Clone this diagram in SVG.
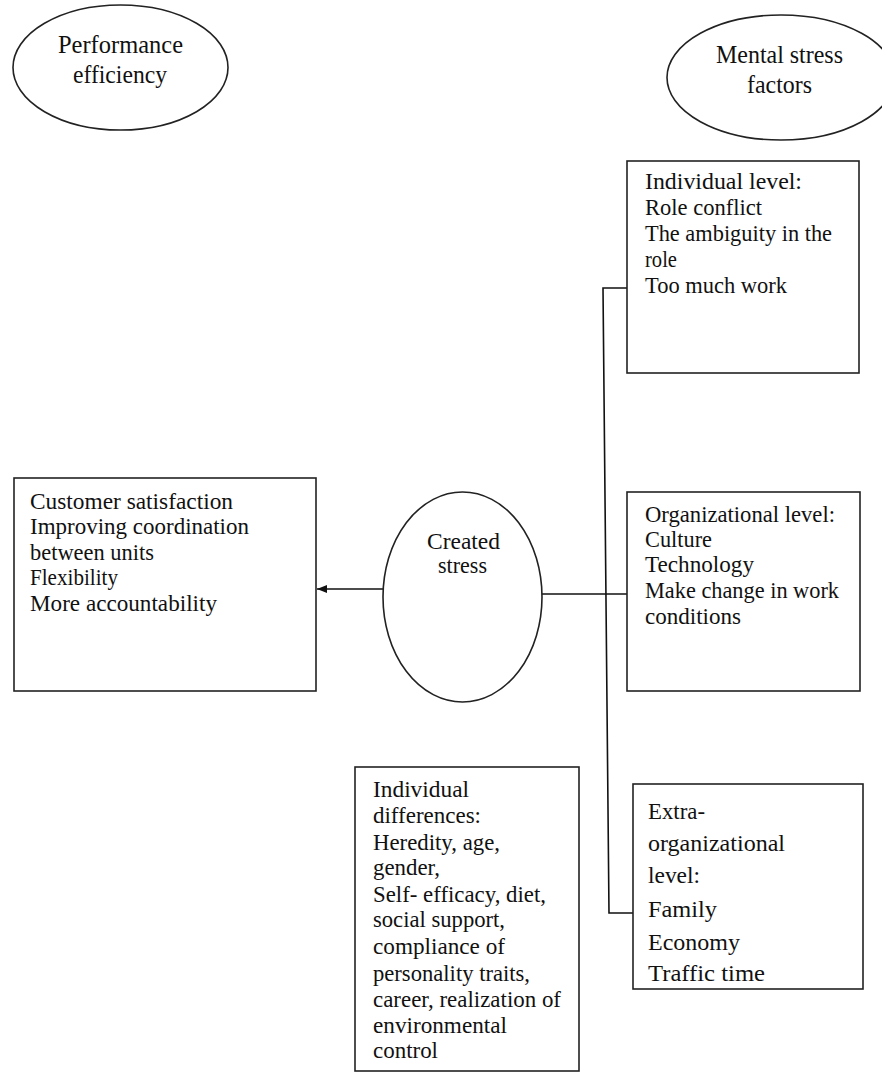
<svg xmlns="http://www.w3.org/2000/svg" width="882" height="1072" viewBox="0 0 882 1072">
<style>
  .shape { fill: #ffffff; stroke: #222222; stroke-width: 1.6; }
  .conn { fill: none; stroke: #111111; stroke-width: 1.6; }
  text { font-family: "Liberation Serif", "Times New Roman", serif; font-size: 23px; fill: #111111; }
  .c { text-anchor: middle; }
  .big { font-size: 24px; }
  .head { font-size: 25px; }
</style>
<defs>
  <marker id="arrow" markerWidth="10" markerHeight="8" refX="10" refY="4" orient="auto" markerUnits="userSpaceOnUse">
    <path d="M0,0 L10,4 L0,8 Z" fill="#111111"/>
  </marker>
</defs>
<rect width="882" height="1072" fill="#ffffff"/>

<g id="connectors">
  <line class="conn" x1="383" y1="589" x2="317" y2="589" marker-end="url(#arrow)"/>
  <line class="conn" x1="542" y1="594" x2="627" y2="594"/>
  <path class="conn" d="M627,288 L603,288 L609,913 L633,913"/>
</g>

<g id="performance-efficiency">
  <ellipse class="shape" cx="120.5" cy="67.5" rx="107.5" ry="62.5"/>
  <text class="c head" x="120.5" y="53" textLength="125" lengthAdjust="spacingAndGlyphs">Performance</text>
  <text class="c head" x="120" y="83" textLength="94" lengthAdjust="spacingAndGlyphs">efficiency</text>
</g>

<g id="mental-stress-factors">
  <ellipse class="shape" cx="781" cy="77.5" rx="114" ry="62.5"/>
  <text class="c head" x="779.5" y="63" textLength="127" lengthAdjust="spacingAndGlyphs">Mental stress</text>
  <text class="c head" x="779.5" y="93" textLength="65" lengthAdjust="spacingAndGlyphs">factors</text>
</g>

<g id="individual-level">
  <rect class="shape" x="627" y="161" width="232" height="212"/>
  <text x="645" y="189" textLength="157" lengthAdjust="spacingAndGlyphs">Individual level:</text>
  <text x="645" y="215" textLength="117" lengthAdjust="spacingAndGlyphs">Role conflict</text>
  <text x="645" y="241" textLength="187" lengthAdjust="spacingAndGlyphs">The ambiguity in the</text>
  <text x="645" y="267" textLength="32" lengthAdjust="spacingAndGlyphs">role</text>
  <text x="645" y="293" textLength="142" lengthAdjust="spacingAndGlyphs">Too much work</text>
</g>

<g id="outcomes">
  <rect class="shape" x="14" y="478" width="302" height="213"/>
  <text x="30" y="509" textLength="203" lengthAdjust="spacingAndGlyphs">Customer satisfaction</text>
  <text x="30" y="534" textLength="219" lengthAdjust="spacingAndGlyphs">Improving coordination</text>
  <text x="30" y="560" textLength="124" lengthAdjust="spacingAndGlyphs">between units</text>
  <text x="30" y="585" textLength="88" lengthAdjust="spacingAndGlyphs">Flexibility</text>
  <text x="30" y="611" textLength="187" lengthAdjust="spacingAndGlyphs">More accountability</text>
</g>

<g id="created-stress">
  <ellipse class="shape" cx="462.5" cy="597" rx="79.5" ry="105"/>
  <text class="c" x="463.5" y="549" textLength="73" lengthAdjust="spacingAndGlyphs">Created</text>
  <text class="c" x="462.5" y="573" textLength="49" lengthAdjust="spacingAndGlyphs">stress</text>
</g>

<g id="organizational-level">
  <rect class="shape" x="627" y="492" width="233" height="199"/>
  <text x="645" y="522" textLength="190" lengthAdjust="spacingAndGlyphs">Organizational level:</text>
  <text x="645" y="547" textLength="67" lengthAdjust="spacingAndGlyphs">Culture</text>
  <text x="645" y="572" textLength="109" lengthAdjust="spacingAndGlyphs">Technology</text>
  <text x="645" y="598" textLength="194" lengthAdjust="spacingAndGlyphs">Make change in work</text>
  <text x="645" y="624" textLength="96" lengthAdjust="spacingAndGlyphs">conditions</text>
</g>

<g id="individual-differences">
  <rect class="shape" x="355" y="767" width="224" height="304"/>
  <text x="373" y="797" textLength="96" lengthAdjust="spacingAndGlyphs">Individual</text>
  <text x="373" y="823" textLength="108" lengthAdjust="spacingAndGlyphs">differences:</text>
  <text x="373" y="850" textLength="127" lengthAdjust="spacingAndGlyphs">Heredity, age,</text>
  <text x="373" y="875" textLength="67" lengthAdjust="spacingAndGlyphs">gender,</text>
  <text x="373" y="902" textLength="173" lengthAdjust="spacingAndGlyphs">Self- efficacy, diet,</text>
  <text x="373" y="927" textLength="132" lengthAdjust="spacingAndGlyphs">social support,</text>
  <text x="373" y="954" textLength="132" lengthAdjust="spacingAndGlyphs">compliance of</text>
  <text x="373" y="981" textLength="157" lengthAdjust="spacingAndGlyphs">personality traits,</text>
  <text x="373" y="1007" textLength="188" lengthAdjust="spacingAndGlyphs">career, realization of</text>
  <text x="373" y="1033" textLength="134" lengthAdjust="spacingAndGlyphs">environmental</text>
  <text x="373" y="1058" textLength="65" lengthAdjust="spacingAndGlyphs">control</text>
</g>

<g id="extra-organizational-level">
  <rect class="shape" x="633" y="784" width="230" height="205"/>
  <text class="big" x="648" y="819" textLength="57" lengthAdjust="spacingAndGlyphs">Extra-</text>
  <text class="big" x="648" y="851" textLength="137" lengthAdjust="spacingAndGlyphs">organizational</text>
  <text class="big" x="648" y="883" textLength="52" lengthAdjust="spacingAndGlyphs">level:</text>
  <text class="big" x="648" y="917" textLength="69" lengthAdjust="spacingAndGlyphs">Family</text>
  <text class="big" x="648" y="950" textLength="92" lengthAdjust="spacingAndGlyphs">Economy</text>
  <text class="big" x="648" y="981" textLength="117" lengthAdjust="spacingAndGlyphs">Traffic time</text>
</g>
</svg>
